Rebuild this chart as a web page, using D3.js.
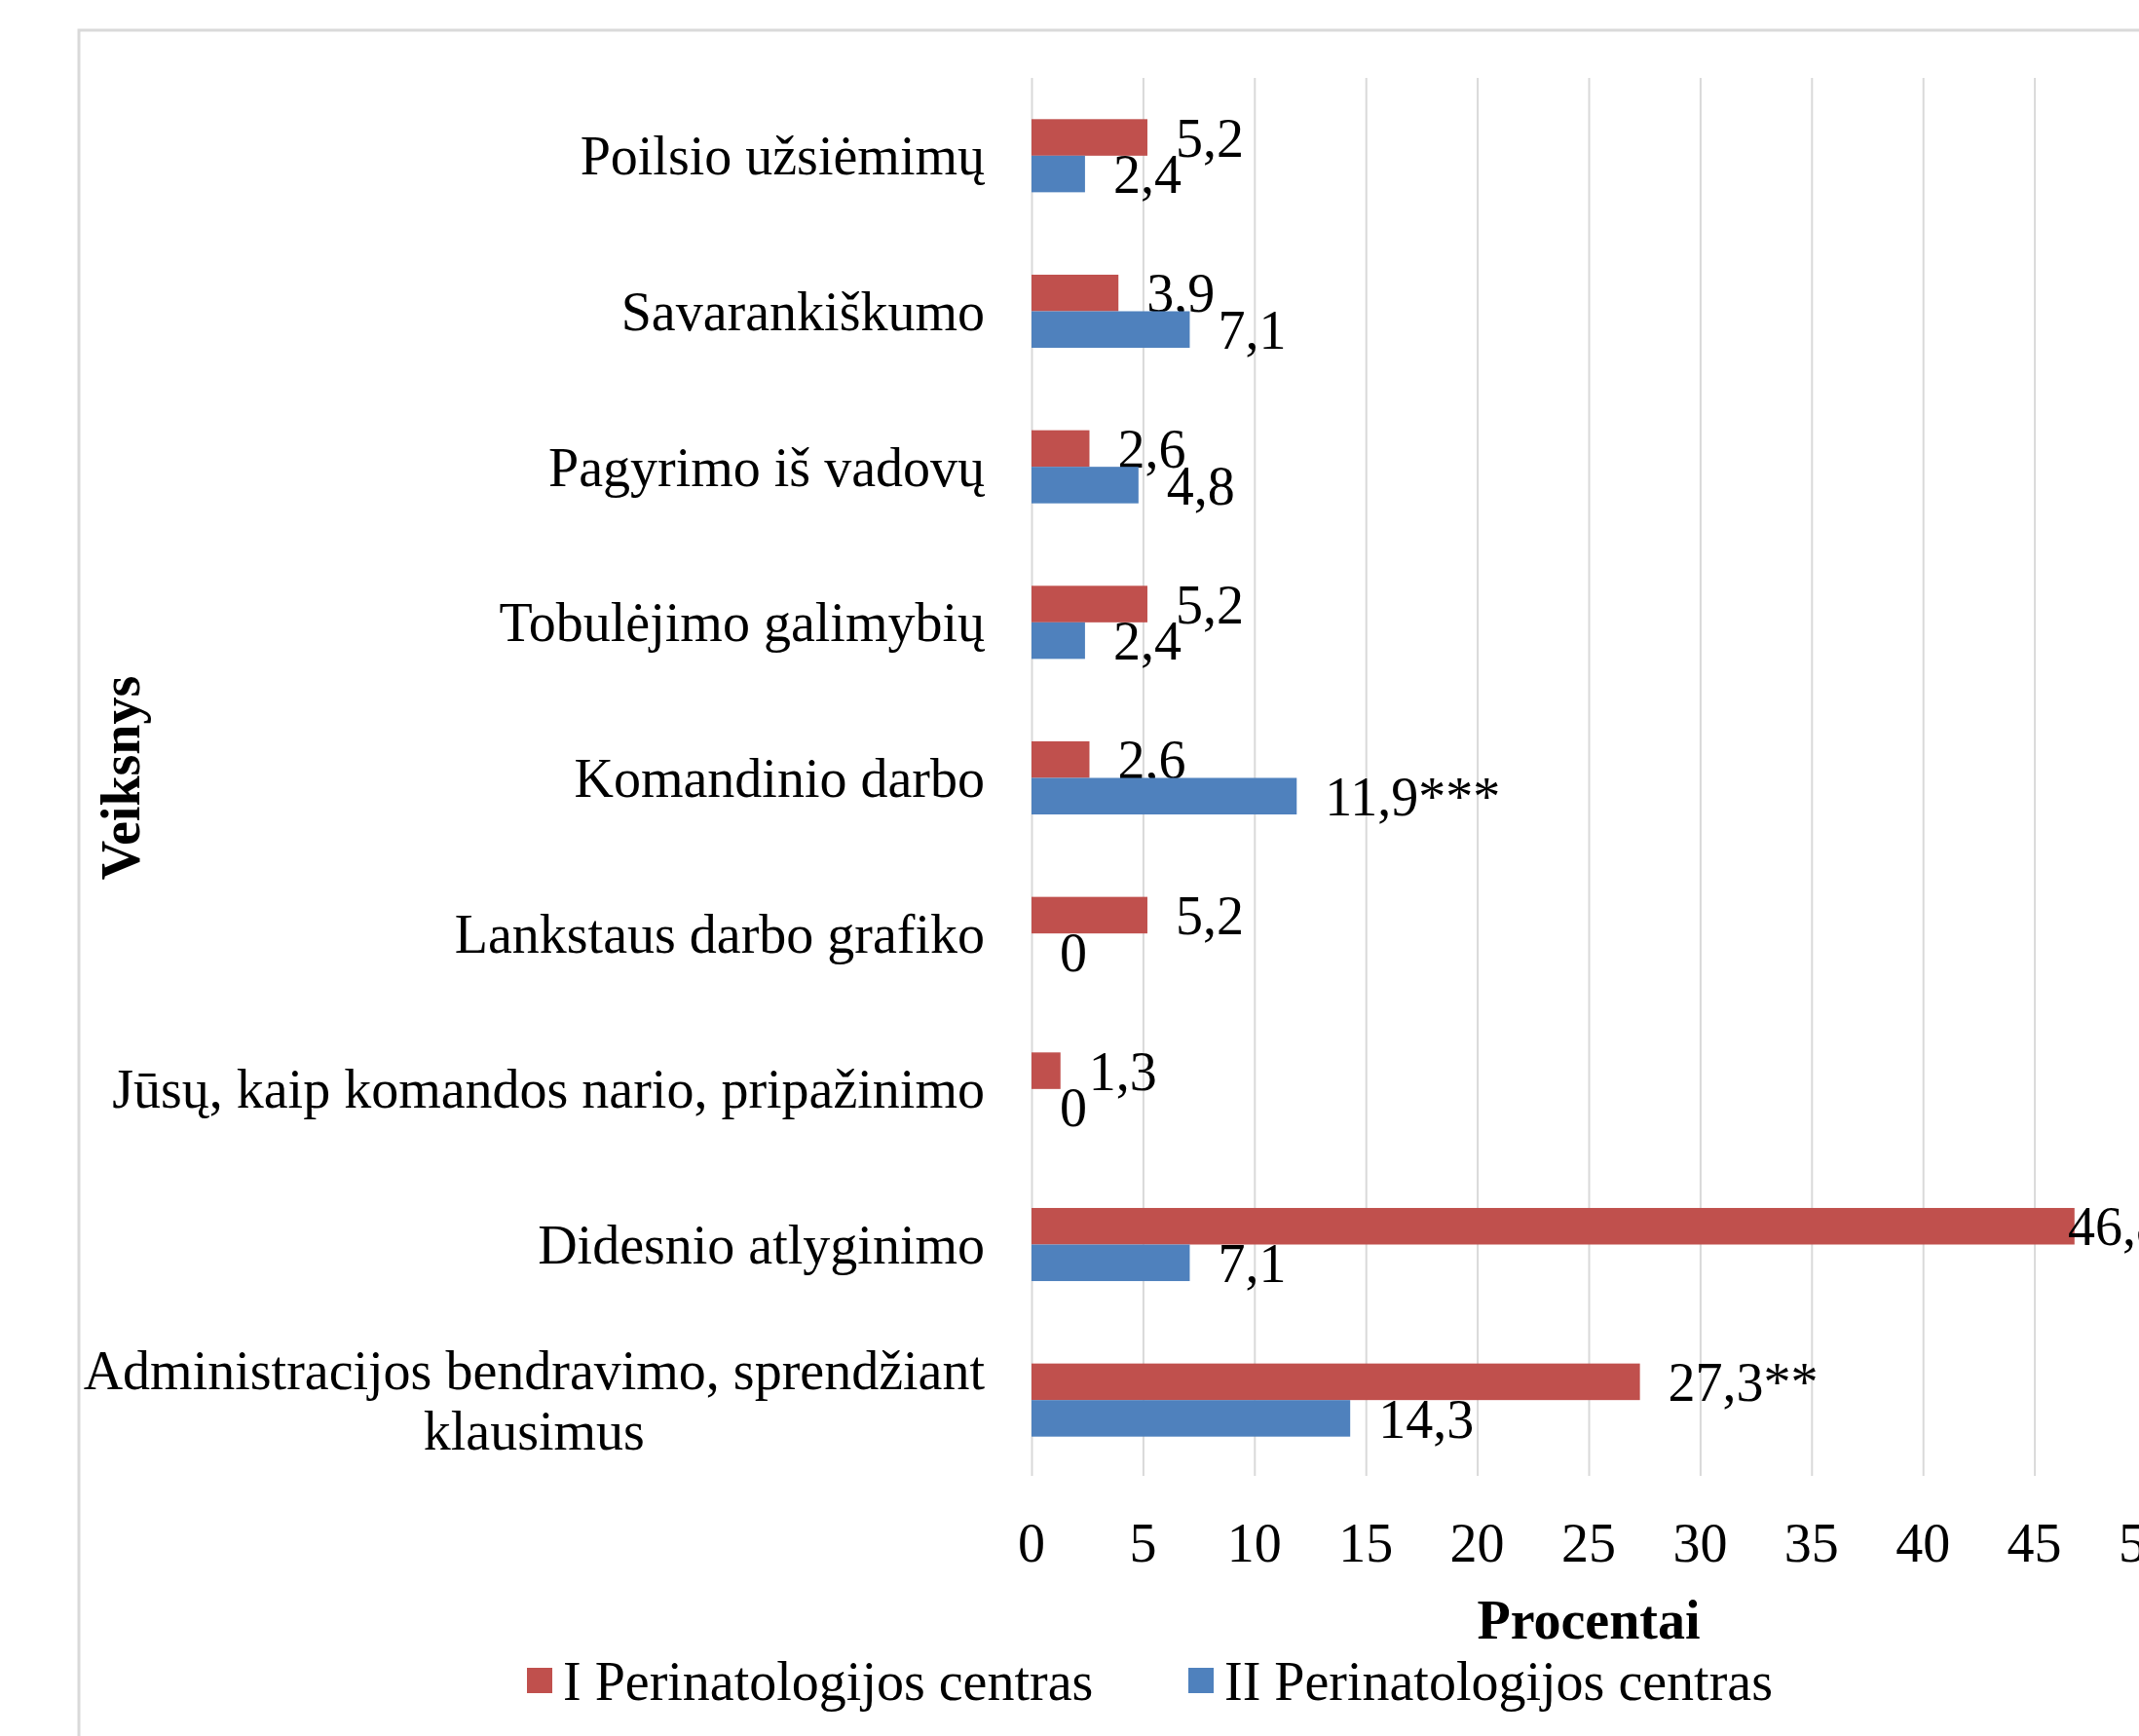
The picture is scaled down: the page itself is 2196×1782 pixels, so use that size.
<!DOCTYPE html>
<html>
<head>
<meta charset="utf-8">
<script src="https://cdnjs.cloudflare.com/ajax/libs/d3/7.8.5/d3.min.js"></script>
<style>
  body { margin: 0; background: #fff; }
  text { font-family: "Liberation Serif", "Times New Roman", serif; fill: #000; }
</style>
</head>
<body>
<script>
// Chart data
var categories = [
  "Poilsio užsiėmimų",
  "Savarankiškumo",
  "Pagyrimo iš vadovų",
  "Tobulėjimo galimybių",
  "Komandinio darbo",
  "Lankstaus darbo grafiko",
  "Jūsų, kaip komandos nario, pripažinimo",
  "Didesnio atlyginimo",
  "Administracijos bendravimo, sprendžiant klausimus"
];
var seriesNames = ["I Perinatologijos centras", "II Perinatologijos centras"];
var centerI = [5.2, 3.9, 2.6, 5.2, 2.6, 5.2, 1.3, 46.8, 27.3];
var centerII = [2.4, 7.1, 4.8, 2.4, 11.9, 0, 0, 7.1, 14.3];
// significance marks shown after some values
var marksI = ["", "", "", "", "", "", "", "", "**"];
var marksII = ["", "", "", "", "***", "", "", "", ""];
var xTicks = [0, 5, 10, 15, 20, 25, 30, 35, 40, 45, 50];
var colors = ["#C0504D", "#4F81BD"];

// SVG area
var svgWidth = 2196;
var svgHeight = 1782;
var fontSize = 56;

// plot area inside the svg
var plot = { left: 1059, right: 2203, top: 80, bottom: 1517 };

var svg = d3.select("body")
  .append("svg")
  .attr("width", svgWidth)
  .attr("height", svgHeight);

// chart frame (runs off the right and bottom edges)
svg.append("rect")
  .attr("x", 81)
  .attr("y", 31)
  .attr("width", 2300)
  .attr("height", 1900)
  .attr("fill", "#fff")
  .attr("stroke", "#d9d9d9")
  .attr("stroke-width", 3);

// scales
var xScale = d3.scaleLinear()
  .domain([0, 50])
  .range([plot.left, plot.right]);

var yScale = d3.scaleBand()
  .domain(categories)
  .range([plot.top, plot.bottom])
  .paddingInner(0.53)
  .paddingOuter(0.265);

var ySeries = d3.scaleBand()
  .domain([0, 1])
  .range([0, yScale.bandwidth()]);

// vertical gridlines
var xAxis = d3.axisBottom(xScale)
  .tickValues(xTicks)
  .tickSize(-(1515 - plot.top))
  .tickFormat("");

var grid = svg.append("g")
  .attr("transform", "translate(0, 1515)")
  .call(xAxis);
grid.select(".domain").remove();
grid.selectAll(".tick line")
  .attr("stroke", "#d9d9d9")
  .attr("stroke-width", 2);

// tick labels
svg.append("g")
  .selectAll("text")
  .data(xTicks)
  .enter()
  .append("text")
  .attr("x", d => xScale(d))
  .attr("y", 1583)
  .attr("dy", "0.35em")
  .attr("text-anchor", "middle")
  .attr("font-size", fontSize)
  .text(d => d);

// bars
var seriesData = [centerI, centerII];
var seriesMarks = [marksI, marksII];

seriesData.forEach(function(values, s) {
  var g = svg.append("g");

  g.selectAll("rect")
    .data(values)
    .enter()
    .append("rect")
    .attr("x", xScale(0))
    .attr("y", (d, i) => yScale(categories[i]) + ySeries(s))
    .attr("width", d => xScale(d) - xScale(0))
    .attr("height", ySeries.bandwidth())
    .attr("fill", colors[s]);

  // value labels, kept inside the plot area
  g.selectAll("text")
    .data(values)
    .enter()
    .append("text")
    .attr("x", d => Math.min(xScale(d) + 29, xScale(50) - 80))
    .attr("y", (d, i) => yScale(categories[i]) + ySeries(s) + ySeries.bandwidth() / 2)
    .attr("dy", "0.35em")
    .attr("font-size", fontSize)
    .text((d, i) => String(d).replace(".", ",") + seriesMarks[s][i]);
});

// category labels, long one wraps on two centred lines
var labelRight = 1011;
categories.forEach(function(name, i) {
  var cy = yScale(name) + yScale.bandwidth() / 2;
  if (name.length > 40) {
    var cut = name.lastIndexOf(" ");
    var lines = [name.slice(0, cut), name.slice(cut + 1)];
    var t = svg.append("text")
      .attr("font-size", fontSize)
      .attr("text-anchor", "middle")
      .attr("x", labelRight)
      .attr("y", cy - 31)
      .attr("dy", "0.35em")
      .text(lines[0]);
    var w = t.node().getComputedTextLength();
    var mid = labelRight - w / 2;
    t.attr("x", mid);
    svg.append("text")
      .attr("font-size", fontSize)
      .attr("text-anchor", "middle")
      .attr("x", mid)
      .attr("y", cy + 31)
      .attr("dy", "0.35em")
      .text(lines[1]);
  } else {
    svg.append("text")
      .attr("font-size", fontSize)
      .attr("text-anchor", "end")
      .attr("x", labelRight)
      .attr("y", cy)
      .attr("dy", "0.35em")
      .text(name);
  }
});

// axis titles
svg.append("text")
  .attr("transform", `translate(123, ${(plot.top + plot.bottom) / 2}) rotate(-90)`)
  .attr("text-anchor", "middle")
  .attr("dy", "0.35em")
  .attr("font-size", fontSize)
  .attr("font-weight", "bold")
  .text("Veiksnys");

svg.append("text")
  .attr("x", (plot.left + plot.right) / 2)
  .attr("y", 1662)
  .attr("text-anchor", "middle")
  .attr("dy", "0.35em")
  .attr("font-size", fontSize)
  .attr("font-weight", "bold")
  .text("Procentai");

// legend
var legendX = [541, 1220];
seriesNames.forEach(function(name, s) {
  svg.append("rect")
    .attr("x", legendX[s])
    .attr("y", 1725 - 13)
    .attr("width", 26)
    .attr("height", 26)
    .attr("fill", colors[s]);
  svg.append("text")
    .attr("x", legendX[s] + 37)
    .attr("y", 1725)
    .attr("dy", "0.35em")
    .attr("font-size", fontSize)
    .text(name);
});
</script>
</body>
</html>
